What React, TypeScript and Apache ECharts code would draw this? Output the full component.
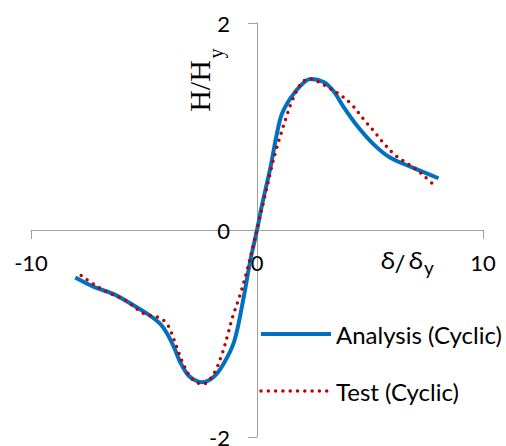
import React, { useEffect, useRef } from "react";
import * as echarts from "echarts";

const xTicks = [-10, 0, 10];
const yTicks = [-2, 0, 2];

const analysisName = "Analysis (Cyclic)";
const testName = "Test (Cyclic)";

const analysisData: [number, number][] = [
  [-8.04, -0.46], [-7.22, -0.55], [-6.34, -0.62], [-5.45, -0.73], [-4.72, -0.83],
  [-4.27, -0.91], [-3.98, -1.0], [-3.68, -1.13], [-3.39, -1.28], [-3.02, -1.41],
  [-2.65, -1.46], [-2.43, -1.47], [-1.92, -1.42], [-1.47, -1.29], [-1.0, -1.07],
  [-0.59, -0.65], [-0.3, -0.3], [0, 0], [0.22, 0.24], [0.59, 0.6], [0.88, 0.93],
  [1.1, 1.12], [1.47, 1.27], [1.91, 1.39], [2.36, 1.46], [2.95, 1.43], [3.39, 1.34],
  [3.83, 1.19], [4.42, 1.01], [5.15, 0.83], [5.89, 0.7], [6.92, 0.6], [8.03, 0.5],
];

const testData: [number, number][] = [
  [-7.78, -0.44], [-7.19, -0.53], [-6.53, -0.61], [-5.89, -0.67], [-5.27, -0.77],
  [-4.98, -0.81], [-4.63, -0.83], [-4.3, -0.85], [-4.01, -0.9], [-3.83, -0.97],
  [-3.57, -1.12], [-3.31, -1.27], [-2.98, -1.41], [-2.7, -1.47], [-2.4, -1.49],
  [-1.92, -1.39], [-1.55, -1.2], [-1.28, -1.0], [-1.08, -0.84], [-0.74, -0.62],
  [-0.44, -0.39], [-0.1, -0.09], [0.07, 0.07], [0.33, 0.31], [0.66, 0.62],
  [0.84, 0.77], [1.06, 0.93], [1.28, 1.08], [1.52, 1.23], [1.84, 1.38], [2.06, 1.44],
  [2.39, 1.46], [2.72, 1.43], [3.05, 1.39], [3.65, 1.31], [4.2, 1.21], [4.68, 1.08],
  [5.15, 0.96], [5.6, 0.84], [6.13, 0.72], [6.75, 0.63], [7.3, 0.54], [7.84, 0.43],
];

const SANS = "Lato, 'Noto Sans', sans-serif";
const GREEK = "'Noto Sans', 'DejaVu Sans', sans-serif";
const SERIF = "'Liberation Serif', 'Times New Roman', serif";
const AXIS_GRAY = "#A0A0A0";

const GRID = { left: 31, right: 23, top: 23, bottom: 9 };

export default function App() {
  const ref = useRef<HTMLDivElement>(null);

  useEffect(() => {
    if (!ref.current) return;
    const chart = echarts.init(ref.current, null, { renderer: "svg" });
    const text = (
      x: number,
      y: number,
      t: string,
      size: number,
      family: string,
      rotation = 0,
      scaleX = 1
    ) => ({
      type: "text",
      x,
      y,
      rotation,
      scaleX,
      style: {
        text: t,
        fontSize: size,
        fontFamily: family,
        fill: "#000",
        align: "center",
        verticalAlign: "middle",
      },
    });
    chart.setOption({
      animation: false,
      backgroundColor: "#ffffff",
      grid: { ...GRID, containLabel: false, outerBoundsMode: "none" },
      xAxis: {
        type: "value",
        min: xTicks[0],
        max: xTicks[xTicks.length - 1],
        interval: 10,
        splitLine: { show: false },
        axisLine: { onZero: false, lineStyle: { color: AXIS_GRAY, width: 1 } },
        axisTick: { show: true, length: 9, lineStyle: { color: AXIS_GRAY } },
        axisLabel: { margin: 21, fontSize: 22, color: "#000", fontFamily: SANS },
      },
      yAxis: {
        type: "value",
        min: yTicks[0],
        max: yTicks[yTicks.length - 1],
        interval: 2,
        splitLine: { show: false },
        axisLine: { onZero: false, lineStyle: { color: AXIS_GRAY, width: 1 } },
        axisTick: { show: true, length: 9, lineStyle: { color: AXIS_GRAY } },
        axisLabel: { margin: 27, fontSize: 22, color: "#000", fontFamily: SANS },
      },
      legend: {
        orient: "vertical",
        left: 259,
        top: 320,
        padding: 0,
        itemWidth: 70,
        itemHeight: 14,
        itemGap: 29,
        data: [analysisName, testName],
        lineStyle: { width: "inherit" },
        itemStyle: { opacity: 0 },
        textStyle: { fontSize: 24, lineHeight: 28, color: "#000", fontFamily: SANS },
      },
      series: [
        {
          name: analysisName,
          type: "line",
          data: analysisData,
          showSymbol: false,
          symbol: "none",
          smooth: 0.35,
          lineStyle: { color: "#0070C0", width: 4 },
          itemStyle: { color: "#0070C0" },
          z: 2,
        },
        {
          name: testName,
          type: "line",
          data: testData,
          showSymbol: false,
          symbol: "none",
          smooth: 0.35,
          lineStyle: { color: "#C00000", width: 3.5, type: [0, 7.3], cap: "round" },
          itemStyle: { color: "#C00000" },
          z: 3,
        },
      ],
      graphic: [
        text(199.5, 86, "H/H", 30, SERIF, Math.PI / 2),
        text(216, 53.5, "y", 20, SERIF, Math.PI / 2),
        text(388, 261, "δ", 21, GREEK, 0, 1.2),
        text(400, 262, "/", 24, SANS),
        text(416, 261, "δ", 21, GREEK, 0, 1.2),
        text(429, 267, "y", 19, SANS),
      ],
    });
    // move both axes (line, ticks and labels) so they cross at the origin
    const origin = chart.convertToPixel({ gridIndex: 0 }, [0, 0]) as number[];
    const height = ref.current.clientHeight;
    const bottomY = height - GRID.bottom;
    chart.setOption({
      xAxis: { offset: origin[1] - bottomY },
      yAxis: { offset: GRID.left - origin[0] },
    });
    return () => chart.dispose();
  }, []);

  return (
    <div
      ref={ref}
      style={{ position: "absolute", left: 0, top: 0, width: 506, height: 446 }}
    />
  );
}
